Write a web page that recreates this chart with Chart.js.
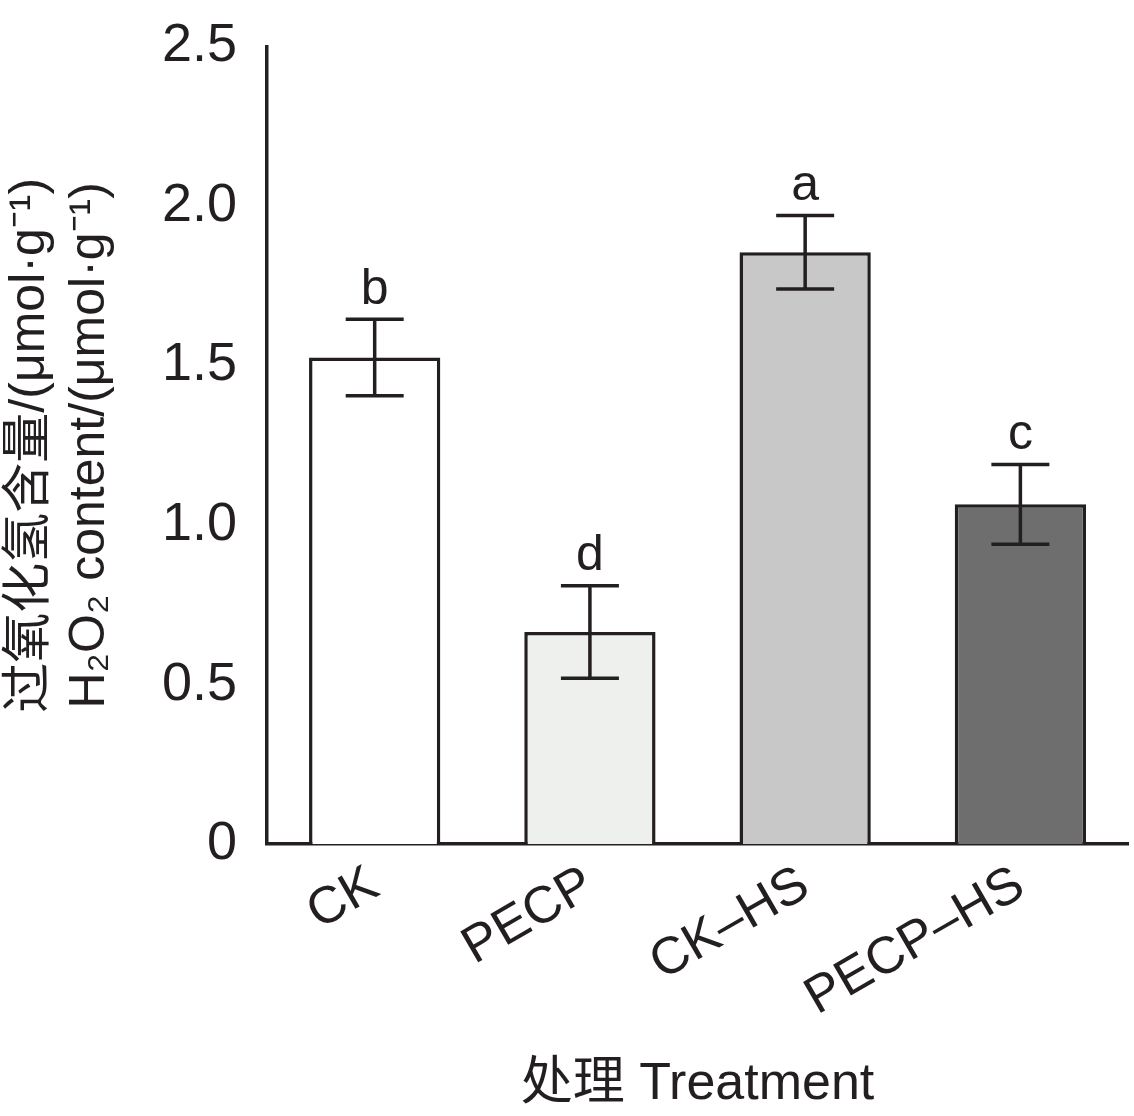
<!DOCTYPE html>
<html>
<head>
<meta charset="utf-8">
<script src="https://cdn.jsdelivr.net/npm/chart.js@4"></script>
<style>
  html, body { margin: 0; padding: 0; background: #fff; }
  #wrap { width: 1134px; height: 1116px; }
</style>
</head>
<body>
<div id="wrap"><canvas id="myChart"></canvas></div>
<script>
const categories = ['CK', 'PECP', 'CK\u2013HS', 'PECP\u2013HS'];
const values = [1.525, 0.665, 1.855, 1.065];
const errors = [0.12, 0.145, 0.115, 0.125];
const letters = ['b', 'd', 'a', 'c'];
const colors = ['#ffffff', '#eef0ee', '#c8c8c8', '#6e6e6e'];
const yTicks = [0, 0.5, 1.0, 1.5, 2.0, 2.5];

const font = "'Liberation Sans', Arial, 'Noto Sans CJK SC', sans-serif";

// error bars and significance letters
const errorBars = {
    id: 'errorBars',
    afterDatasetsDraw(chart) {
        const c = chart.ctx;
        const x = chart.scales.x, y = chart.scales.y;
        c.save();
        c.strokeStyle = '#231f20';
        c.lineWidth = 3.5;
        c.fillStyle = '#231f20';
        c.font = '50px ' + font;
        c.textAlign = 'center';
        c.textBaseline = 'bottom';
        values.forEach((v, i) => {
            const cx = x.getPixelForValue(i);
            const top = y.getPixelForValue(v + errors[i]);
            const bot = y.getPixelForValue(v - errors[i]);
            c.beginPath();
            c.moveTo(cx, top); c.lineTo(cx, bot);
            c.moveTo(cx - 29, top); c.lineTo(cx + 29, top);
            c.moveTo(cx - 29, bot); c.lineTo(cx + 29, bot);
            c.stroke();
            c.fillText(letters[i], cx, top - 4);
        });
        c.restore();
    }
};

const ctx = document.getElementById('myChart');
new Chart(ctx, {
    type: 'bar',
    data: {
        labels: categories,
        datasets: [{
            data: values,
            backgroundColor: colors,
            borderColor: '#231f20',
            borderWidth: 3.5,
            borderSkipped: 'bottom',
            categoryPercentage: 1,
            barPercentage: 0.61,
        }],
    },
    options: {
        responsive: true,
        maintainAspectRatio: false,
        animation: false,
        layout: { padding: { top: 12, right: 6, left: 0, bottom: 0 } },
        plugins: { legend: { display: false }, tooltip: { enabled: false } },
        scales: {
            x: {
                grid: { display: false, drawTicks: false },
                border: { color: '#231f20', width: 3.5 },
                ticks: {
                    color: '#231f20', font: { family: font, size: 52 },
                    maxRotation: 30, minRotation: 30, padding: 10,
                },
                title: {
                    display: true, text: '处理 Treatment', color: '#231f20',
                    font: { family: font, size: 52 },
                    padding: { top: 14, bottom: 0 },
                },
            },
            y: {
                min: 0, max: 2.5,
                afterBuildTicks: axis => { axis.ticks = yTicks.map(v => ({ value: v })); },
                grid: { display: false, drawTicks: true, tickLength: 16, tickWidth: 3.5, tickColor: '#231f20' },
                border: { color: '#231f20', width: 3.5 },
                ticks: {
                    color: '#231f20', font: { family: font, size: 54 }, padding: 14,
                    callback: v => v === 0 ? '0' : v.toFixed(1),
                },
                title: {
                    display: true,
                    text: ['过氧化氢含量/(μmol·g⁻¹)', 'H₂O₂ content/(μmol·g⁻¹)'],
                    color: '#231f20',
                    font: { family: font, size: 50 },
                    padding: { top: 0, bottom: 28 },
                },
            },
        },
    },
    plugins: [errorBars],
});
</script>
</body>
</html>
